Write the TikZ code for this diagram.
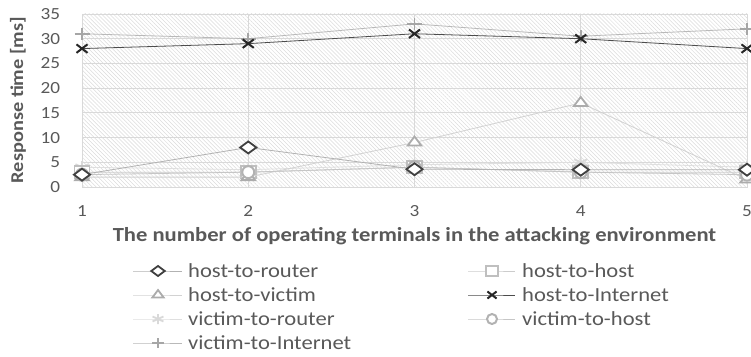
\documentclass[tikz,border=0pt]{standalone}
\usepackage{fontspec}
\setmainfont{Carlito}[FakeStretch=1.13]
\usetikzlibrary{patterns.meta,plotmarks}
\definecolor{testo}{HTML}{595959}
\definecolor{griglia}{HTML}{D9D9D9}
\definecolor{tratteggio}{HTML}{DCDCDC}
\tikzset{
  tick/.style={font=\fontsize{17}{20}\selectfont, text=testo},
  voce/.style={font=\fontsize{20}{23}\selectfont, text=testo, anchor=west, inner sep=0pt},
  serie/.style={line width=0.8pt, mark size=6pt},
  hr/.style={serie, draw=gray!60, mark=diamond*, mark options={xscale=1.8, draw=black!75, fill=white, line width=1.8pt}},
  hh/.style={serie, draw=gray!40, mark=square*, mark options={xscale=1.25, draw=gray!50, fill=white, line width=1.8pt}},
  hv/.style={serie, draw=gray!35, mark=triangle*, mark options={xscale=1.3, draw=gray!65, fill=white, line width=1.8pt}},
  hi/.style={serie, draw=black!70, mark=x, mark options={xscale=1.3, draw=black!85, line width=2pt}},
  vr/.style={serie, draw=gray!25, mark=asterisk, mark options={xscale=1.25, draw=gray!30, line width=1.8pt}},
  vh/.style={serie, draw=gray!45, mark=*, mark options={draw=gray!60, fill=white, line width=2pt}},
  vi/.style={serie, draw=gray!55, mark=+, mark options={xscale=1.25, draw=gray!70, line width=1.8pt}},
}
\begin{document}
\begin{tikzpicture}[x=1pt, y=1pt]
    \useasboundingbox (0,0) rectangle (751,356);
    % area del grafico
    \fill[white] (82,169) rectangle (747,342);
    \fill[pattern={Lines[angle=-45, distance=2.8pt, line width=0.5pt]}, pattern color=tratteggio] (82,169) rectangle (747,342);
    \begin{scope}[shift={(82,169)}, x=166.25pt, y=4.943pt]
        % griglia
        \foreach \v in {5,10,...,35}
            \draw[griglia, line width=0.9pt] (0,\v) -- (4,\v);
        \foreach \i in {0,...,4}
            \draw[griglia, line width=0.9pt] (\i,0) -- (\i,35);
        \draw[griglia, line width=0.9pt] (0,0) rectangle (4,35);
        % etichette degli assi
        \foreach \v in {0,5,...,35}
            \node[tick, anchor=east, inner sep=0pt] (y\v) at (-0.13,\v) {\v};
        \foreach \i in {1,...,5}
            \node[tick] (x\i) at (\i-1,-4.9) {\i};
        % serie
        \draw[vr] plot coordinates {(0,4) (1,3.5) (2,4.5) (3,5) (4,4)};
        \draw[hh] plot coordinates {(0,3) (1,3) (2,4) (3,3) (4,3)};
        \draw[hv] plot coordinates {(0,2) (1,2) (2,9) (3,17) (4,1.5)};
        \draw[vh] plot coordinates {(0,2.5) (1,3) (2,4) (3,3) (4,2.5)};
        \draw[hr] plot coordinates {(0,2.5) (1,8) (2,3.6) (3,3.5) (4,3.5)};
        \draw[vi] plot coordinates {(0,31) (1,30) (2,33) (3,30.5) (4,32)};
        \draw[hi] plot coordinates {(0,28) (1,29) (2,31) (3,30) (4,28)};
    \end{scope}
    % titoli degli assi
    \node[font=\bfseries\fontsize{20}{23}\selectfont, text=testo] (titolox) at (414.5,120) {The number of operating terminals in the attacking environment};
    \node[font=\bfseries\fontsize{18}{22}\selectfont, text=testo, rotate=90] (titoloy) at (18,256) {Response time [ms]};
    % legenda a sinistra
    \draw[hr, mark size=5pt, mark indices={2}] plot coordinates {(133,85) (158,85) (182,85)};
    \node[voce] (lhr) at (188,85) {host-to-router};
    \draw[hv, mark size=5pt, mark indices={2}] plot coordinates {(133,61) (158,61) (182,61)};
    \node[voce] (lhv) at (188,61) {host-to-victim};
    \draw[vr, mark size=5pt, mark indices={2}] plot coordinates {(133,37) (158,37) (182,37)};
    \node[voce] (lvr) at (188,37) {victim-to-router};
    \draw[vi, mark size=5pt, mark indices={2}] plot coordinates {(133,13) (158,13) (182,13)};
    \node[voce] (lvi) at (188,13) {victim-to-Internet};
    % legenda a destra
    \draw[hh, mark size=5pt, mark indices={2}] plot coordinates {(468,85) (492,85) (515,85)};
    \node[voce] (lhh) at (522,85) {host-to-host};
    \draw[hi, mark size=5pt, mark indices={2}] plot coordinates {(468,61) (492,61) (515,61)};
    \node[voce] (lhi) at (522,61) {host-to-Internet};
    \draw[vh, mark size=5pt, mark indices={2}] plot coordinates {(468,37) (492,37) (515,37)};
    \node[voce] (lvh) at (522,37) {victim-to-host};
\end{tikzpicture}
\end{document}
